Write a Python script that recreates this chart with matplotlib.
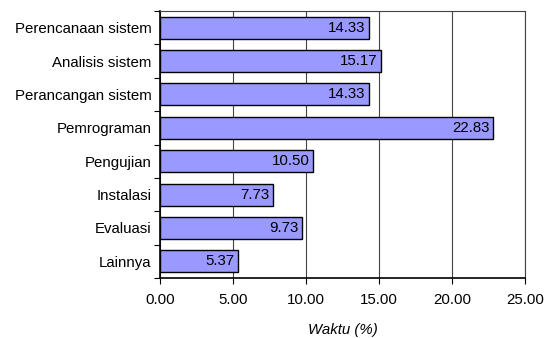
import matplotlib.pyplot as plt
import numpy as np

kategori = ['Perencanaan sistem', 'Analisis sistem', 'Perancangan sistem', 'Pemrograman',
            'Pengujian', 'Instalasi', 'Evaluasi', 'Lainnya']
waktu = [14.33, 15.17, 14.33, 22.83, 10.50, 7.73, 9.73, 5.37]
xticks = [0, 5, 10, 15, 20, 25]

plt.rcParams['font.family'] = ['Liberation Sans', 'DejaVu Sans']
fs = 10.8

fig = plt.figure(figsize=(5.44, 3.38), dpi=100)
ax = fig.add_axes([160/544, 1 - 278/338, 365/544, 267/338])

y = np.arange(len(kategori))
ax.barh(y, waktu, height=0.66, color='#9999FF', edgecolor='black', linewidth=1.0, zorder=3)
for yi, v in zip(y, waktu):
    ax.text(v - 0.25, yi, f'{v:.2f}', ha='right', va='center', fontsize=fs, zorder=4)

ax.set_ylim(len(kategori) - 0.5, -0.5)
ax.set_xlim(0, 25)
ax.set_yticks(y)
ax.set_yticklabels(kategori, fontsize=fs)
ax.set_yticks(np.arange(len(kategori) + 1) - 0.5, minor=True)
ax.tick_params(axis='y', which='major', length=0, pad=6)
ax.tick_params(axis='y', which='minor', length=4, width=0.8, direction='out')
ax.set_xticks(xticks)
ax.set_xticklabels([f'{t:.2f}' for t in xticks], fontsize=fs)
ax.tick_params(axis='x', length=4, width=0.8, direction='out', pad=7)
ax.grid(axis='x', color='#444444', linewidth=0.8, zorder=0)
ax.set_xlabel('Waktu (%)', fontsize=fs, style='italic', labelpad=11)

for s in ['top', 'right']:
    ax.spines[s].set_color('#444444')
    ax.spines[s].set_linewidth(0.8)
for s in ['left', 'bottom']:
    ax.spines[s].set_linewidth(1.2)

fig.savefig('out.png', dpi=100)
